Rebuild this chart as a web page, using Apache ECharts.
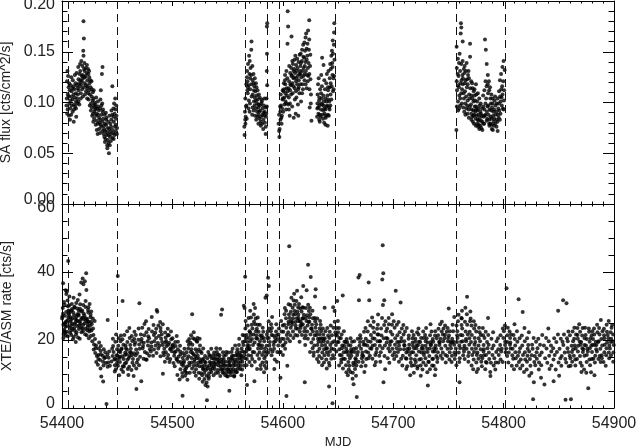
<!DOCTYPE html>
<html>
<head>
<meta charset="utf-8">
<script src="https://cdn.jsdelivr.net/npm/echarts@6/dist/echarts.min.js"></script>
<style>
  html, body { margin: 0; padding: 0; background: #fff; }
  #chart { width: 636px; height: 448px; }
</style>
</head>
<body>
<div id="chart"></div>
<script>
// x range / ticks
const mjdMin = 54400, mjdMax = 54900, mjdStep = 100;
// dashed markers (MJD)
const breakMjd = [54405.6, 54449.6, 54566, 54586, 54596.6, 54647.3, 54756.7, 54801.3];

// SA flux, rows: [day, flux, flux, ...]
const saSegA = [
  [54404, 0.121, 0.097, 0.131, 0.104, 0.089], [54405, 0.108, 0.126, 0.093, 0.115],
  [54406, 0.099, 0.087, 0.119, 0.106, 0.112], [54407, 0.094, 0.117, 0.083, 0.102],
  [54408, 0.111, 0.125, 0.097, 0.088, 0.106], [54409, 0.103, 0.091, 0.114, 0.122],
  [54410, 0.098, 0.108, 0.081, 0.116, 0.093], [54411, 0.113, 0.096, 0.105, 0.127],
  [54412, 0.101, 0.119, 0.086, 0.109, 0.094], [54413, 0.117, 0.104, 0.129, 0.099],
  [54414, 0.123, 0.108, 0.135, 0.114, 0.101], [54415, 0.112, 0.128, 0.119, 0.098],
  [54416, 0.131, 0.116, 0.104, 0.138, 0.122], [54417, 0.118, 0.141, 0.109, 0.126],
  [54418, 0.127, 0.113, 0.136, 0.121, 0.106], [54419, 0.180, 0.163, 0.151, 0.146, 0.124, 0.133, 0.115],
  [54420, 0.119, 0.131, 0.108, 0.139, 0.125], [54421, 0.134, 0.117, 0.126, 0.111],
  [54422, 0.122, 0.137, 0.114, 0.129, 0.104], [54423, 0.116, 0.128, 0.133, 0.109],
  [54424, 0.125, 0.103, 0.119, 0.131, 0.112], [54425, 0.108, 0.122, 0.097, 0.115],
  [54426, 0.113, 0.099, 0.121, 0.092, 0.106], [54427, 0.095, 0.110, 0.087, 0.102],
  [54428, 0.104, 0.089, 0.097, 0.081, 0.112], [54429, 0.091, 0.100, 0.084, 0.095],
  [54430, 0.087, 0.098, 0.078, 0.093, 0.105], [54431, 0.082, 0.094, 0.089, 0.073],
  [54432, 0.096, 0.079, 0.088, 0.069, 0.101], [54433, 0.085, 0.074, 0.092, 0.080],
  [54434, 0.078, 0.094, 0.083, 0.070, 0.103], [54435, 0.112, 0.088, 0.076, 0.097],
  [54436, 0.135, 0.128, 0.091, 0.081, 0.072, 0.099], [54437, 0.084, 0.069, 0.093, 0.077],
  [54438, 0.079, 0.066, 0.088, 0.074, 0.061], [54439, 0.072, 0.083, 0.064, 0.090],
  [54440, 0.068, 0.078, 0.058, 0.085, 0.071], [54441, 0.063, 0.075, 0.055, 0.081],
  [54442, 0.074, 0.060, 0.050, 0.068, 0.087], [54443, 0.066, 0.079, 0.058, 0.071],
  [54444, 0.083, 0.069, 0.092, 0.062, 0.076], [54445, 0.116, 0.073, 0.088, 0.065],
  [54446, 0.081, 0.094, 0.070, 0.086, 0.064], [54447, 0.099, 0.076, 0.089, 0.068],
  [54448, 0.072, 0.104, 0.084, 0.078, 0.093], [54449, 0.087, 0.069, 0.097, 0.075]
];
const saSegB = [
  [54565, 0.083, 0.068, 0.091, 0.076], [54566, 0.104, 0.118, 0.086, 0.096, 0.079],
  [54567, 0.125, 0.097, 0.112, 0.084, 0.131], [54568, 0.109, 0.138, 0.121, 0.094, 0.115],
  [54569, 0.128, 0.102, 0.146, 0.117, 0.091], [54570, 0.113, 0.134, 0.099, 0.124, 0.141],
  [54571, 0.160, 0.152, 0.106, 0.127, 0.118], [54572, 0.122, 0.095, 0.136, 0.108, 0.088],
  [54573, 0.101, 0.119, 0.092, 0.128, 0.112], [54574, 0.116, 0.087, 0.105, 0.124, 0.097],
  [54575, 0.094, 0.111, 0.083, 0.102, 0.119], [54576, 0.107, 0.091, 0.115, 0.086, 0.099],
  [54577, 0.088, 0.103, 0.095, 0.112, 0.079], [54578, 0.098, 0.084, 0.108, 0.091],
  [54579, 0.092, 0.105, 0.081, 0.097], [54580, 0.086, 0.099, 0.077, 0.103],
  [54581, 0.094, 0.079, 0.088, 0.101], [54582, 0.083, 0.097, 0.074, 0.090],
  [54583, 0.091, 0.104, 0.080, 0.087], [54584, 0.076, 0.095, 0.069, 0.086],
  [54585, 0.178, 0.175, 0.148, 0.131, 0.117, 0.104, 0.096, 0.089]
];
const saSegC = [
  [54596, 0.079, 0.066, 0.088, 0.072], [54597, 0.091, 0.074, 0.083, 0.096],
  [54598, 0.097, 0.085, 0.108, 0.079], [54599, 0.112, 0.094, 0.103, 0.087],
  [54600, 0.104, 0.119, 0.091, 0.111], [54601, 0.098, 0.113, 0.122, 0.105],
  [54602, 0.118, 0.101, 0.127, 0.093, 0.109], [54603, 0.107, 0.131, 0.114, 0.099],
  [54604, 0.190, 0.175, 0.158, 0.111, 0.124, 0.098], [54605, 0.121, 0.105, 0.136, 0.114, 0.093],
  [54606, 0.112, 0.129, 0.099, 0.118, 0.087], [54607, 0.165, 0.117, 0.134, 0.108, 0.126],
  [54608, 0.127, 0.109, 0.141, 0.119, 0.096], [54609, 0.116, 0.138, 0.085, 0.124, 0.131],
  [54610, 0.133, 0.114, 0.125, 0.103, 0.142], [54611, 0.121, 0.146, 0.089, 0.129, 0.111],
  [54612, 0.137, 0.118, 0.105, 0.131, 0.124], [54613, 0.126, 0.143, 0.113, 0.134, 0.098],
  [54614, 0.140, 0.122, 0.087, 0.128, 0.115], [54615, 0.118, 0.147, 0.131, 0.109, 0.136],
  [54616, 0.139, 0.125, 0.148, 0.101, 0.128], [54617, 0.131, 0.152, 0.118, 0.141, 0.109],
  [54618, 0.145, 0.126, 0.157, 0.134, 0.113], [54619, 0.136, 0.159, 0.122, 0.144, 0.128],
  [54620, 0.151, 0.131, 0.164, 0.118, 0.140], [54621, 0.142, 0.168, 0.127, 0.153, 0.114],
  [54622, 0.158, 0.134, 0.146, 0.171, 0.121], [54623, 0.181, 0.139, 0.152, 0.126, 0.162],
  [54624, 0.128, 0.147, 0.095, 0.136, 0.113], [54625, 0.108, 0.123, 0.082, 0.099],
  [54631, 0.094, 0.108, 0.086, 0.118, 0.099], [54632, 0.102, 0.089, 0.124, 0.095, 0.083],
  [54633, 0.088, 0.113, 0.097, 0.081, 0.105], [54634, 0.109, 0.093, 0.127, 0.086, 0.099],
  [54635, 0.144, 0.098, 0.116, 0.088, 0.104], [54636, 0.137, 0.092, 0.107, 0.084, 0.097],
  [54637, 0.101, 0.089, 0.122, 0.094, 0.080], [54638, 0.093, 0.113, 0.085, 0.104, 0.078],
  [54639, 0.119, 0.096, 0.087, 0.128, 0.101], [54640, 0.088, 0.107, 0.077, 0.097, 0.115],
  [54641, 0.112, 0.095, 0.131, 0.087, 0.103], [54642, 0.124, 0.101, 0.138, 0.093, 0.115],
  [54643, 0.108, 0.133, 0.097, 0.146, 0.119], [54644, 0.139, 0.116, 0.151, 0.103, 0.127],
  [54645, 0.148, 0.124, 0.161, 0.111, 0.135], [54646, 0.178, 0.169, 0.142, 0.157, 0.126, 0.113]
];
const saSegD = [
  [54757, 0.134, 0.096, 0.155, 0.112, 0.073, 0.121], [54758, 0.117, 0.143, 0.101, 0.128, 0.092],
  [54759, 0.126, 0.107, 0.139, 0.094, 0.115], [54760, 0.104, 0.148, 0.119, 0.131, 0.097],
  [54761, 0.178, 0.174, 0.168, 0.122, 0.109, 0.138], [54762, 0.160, 0.113, 0.127, 0.099, 0.141],
  [54763, 0.118, 0.133, 0.095, 0.109, 0.124], [54764, 0.129, 0.104, 0.119, 0.091, 0.136],
  [54765, 0.099, 0.122, 0.111, 0.131, 0.088], [54766, 0.115, 0.094, 0.139, 0.106, 0.123],
  [54767, 0.102, 0.127, 0.089, 0.118, 0.097], [54768, 0.124, 0.093, 0.108, 0.131, 0.085],
  [54769, 0.158, 0.145, 0.096, 0.114, 0.104], [54770, 0.107, 0.089, 0.121, 0.098, 0.083],
  [54771, 0.093, 0.114, 0.086, 0.104, 0.119], [54772, 0.101, 0.081, 0.111, 0.092, 0.087],
  [54773, 0.088, 0.107, 0.079, 0.096, 0.113], [54774, 0.118, 0.091, 0.084, 0.102, 0.077],
  [54775, 0.096, 0.079, 0.108, 0.087, 0.093], [54776, 0.083, 0.101, 0.076, 0.092, 0.109],
  [54777, 0.094, 0.078, 0.088, 0.104, 0.082], [54778, 0.077, 0.097, 0.085, 0.074, 0.091],
  [54779, 0.089, 0.075, 0.099, 0.082], [54780, 0.081, 0.094, 0.073, 0.087],
  [54781, 0.096, 0.079, 0.107, 0.086], [54782, 0.087, 0.112, 0.093, 0.079],
  [54783, 0.162, 0.152, 0.099, 0.121, 0.088], [54784, 0.138, 0.104, 0.091, 0.116, 0.082],
  [54785, 0.096, 0.127, 0.084, 0.109, 0.118], [54786, 0.112, 0.088, 0.121, 0.097, 0.079],
  [54787, 0.083, 0.104, 0.093, 0.115, 0.077], [54788, 0.099, 0.079, 0.108, 0.086, 0.092],
  [54789, 0.078, 0.095, 0.084, 0.104, 0.074], [54790, 0.091, 0.073, 0.087, 0.099, 0.081],
  [54791, 0.084, 0.102, 0.077, 0.093], [54792, 0.097, 0.079, 0.088, 0.106],
  [54793, 0.076, 0.091, 0.083, 0.099], [54794, 0.088, 0.072, 0.104, 0.081],
  [54795, 0.094, 0.111, 0.085, 0.099], [54796, 0.122, 0.092, 0.106, 0.083],
  [54797, 0.101, 0.128, 0.089, 0.113], [54798, 0.135, 0.097, 0.116, 0.105],
  [54799, 0.108, 0.141, 0.094, 0.121], [54800, 0.112, 0.093, 0.132, 0.102]
];

// XTE/ASM rate, rows: [day, rate, rate, ...], each row spans 2 days
const asmRows1 = [
  [54400, 36.7, 26.3, 23.1, 29.4, 21.8, 26.9, 31.2, 24.5, 20.6, 27.7],
  [54402, 30.4, 25.2, 22.6, 33.5, 27.1, 21.3, 24.8, 28.2, 23.9, 34.6, 22.2],
  [54404, 43.2, 34.3, 31.6, 25.5, 28.7, 22.4, 29.9, 24.1, 26.6, 21.1, 25.8],
  [54406, 28.3, 26.7, 30.2, 23.6, 27.9, 24.2, 32.8, 22.1, 27.4, 25.3],
  [54408, 26.4, 30.6, 23.3, 21.5, 29.1, 25.9, 20.2, 28.6, 24.7, 22.8],
  [54410, 29.5, 24.6, 27.3, 22.7, 32.4, 23.5, 28.1, 26.2, 20.9, 29.8],
  [54412, 27.6, 22.3, 25.7, 30.9, 24.1, 19.4, 26.8, 25.1, 29.3, 21.6],
  [54414, 31.8, 25.4, 28.6, 23.2, 27.5, 24.3, 20.7, 27.2, 25.6, 33.4],
  [54416, 36.9, 29.2, 26.5, 23.7, 28.4, 24.8, 22.3, 30.5, 25.9, 20.4],
  [54418, 38.1, 36.4, 28.7, 26.1, 24.4, 30.3, 22.6, 27.8, 23.4, 26.6],
  [54420, 39.6, 37.3, 31.5, 27.2, 25.6, 23.3, 29.7, 21.7, 26.4, 24.9],
  [54422, 34.7, 29.6, 26.2, 24.5, 21.4, 28.1, 23.8, 25.5, 22.9, 28.8],
  [54424, 30.6, 25.3, 27.4, 22.5, 24.2, 20.5, 26.7, 23.1],
  [54426, 28.4, 24.7, 21.2, 26.3, 22.8, 19.6, 25.4],
  [54428, 25.6, 21.5, 18.7, 23.4, 20.3, 17.2],
  [54430, 18.4, 15.3, 17.6, 13.5, 16.2], [54432, 17.5, 14.4, 19.3, 12.7, 15.6],
  [54434, 18.2, 15.7, 11.6, 9.3, 14.1, 16.8], [54436, 17.3, 13.6, 7.8, 15.4, 12.5],
  [54438, 14.6, 13.2, 16.4, 14.9], [54440, 25.9, 1.2, 13.4, 15.7, 12.1],
  [54442, 16.6, 12.4, 14.8], [54444, 15.3, 13.7, 17.4],
  [54446, 20.4, 12.6, 16.5, 14.3, 18.2, 10.7], [54448, 21.6, 14.5, 17.3, 11.4, 15.5, 19.5, 13.2],
  [54450, 38.8, 18.3, 14.2, 16.7, 12.4, 20.5, 15.4, 9.6], [54452, 17.2, 13.5, 19.6, 15.1, 11.3, 16.4, 21.3, 14.7],
  [54454, 31.5, 18.6, 15.2, 12.3, 17.5, 14.4, 20.2, 10.6], [54456, 16.3, 13.1, 18.4, 21.5, 15.6, 12.2, 17.6],
  [54458, 19.4, 14.2, 17.1, 11.5, 15.8, 22.6, 13.3], [54460, 18.5, 15.3, 20.6, 12.1, 16.4, 14.7, 23.5, 9.7],
  [54462, 17.4, 13.3, 21.2, 15.5, 11.2, 19.7, 16.3], [54464, 20.3, 14.4, 18.6, 12.5, 16.1, 9.4, 22.4],
  [54466, 15.5, 5.6, 19.3, 13.4, 17.2, 11.6, 21.5], [54468, 18.7, 14.3, 23.4, 16.2, 12.6, 20.1],
  [54470, 30.8, 19.5, 15.1, 21.6, 17.4, 7.9], [54472, 17.6, 20.3, 14.5, 23.6, 18.2],
  [54474, 21.4, 16.5, 19.2, 14.3, 24.7], [54476, 19.6, 22.3, 16.1, 25.5, 18.4, 14.2],
  [54478, 20.5, 17.3, 23.2, 15.4, 21.1], [54480, 26.8, 19.3, 22.5, 16.6, 18.1],
  [54482, 21.5, 17.2, 24.4, 19.6, 15.4], [54484, 28.8, 20.6, 23.3, 18.4, 16.2, 22.1],
  [54486, 28.3, 21.2, 17.5, 24.3, 19.1], [54488, 22.6, 18.3, 20.4, 15.2, 23.5, 25.3],
  [54490, 19.4, 10.1, 21.6, 16.3, 18.5, 24.6], [54492, 20.7, 17.4, 22.2, 15.5, 19.3, 13.6],
  [54494, 16.4, 21.5, 18.2, 14.6, 19.7, 23.3], [54496, 19.2, 15.6, 17.3, 21.4, 13.5, 18.6],
  [54498, 17.5, 20.2, 14.4, 18.3, 22.5, 16.7]
];
const asmRows2 = [
  [54500, 15.4, 18.6, 13.2, 20.5, 16.3, 17.7], [54502, 18.2, 14.5, 19.4, 16.6, 12.3, 21.2],
  [54504, 13.6, 17.3, 15.1, 9.7, 19.5, 14.2], [54506, 15.7, 11.4, 18.3, 13.5, 8.4, 16.6],
  [54508, 12.4, 3.6, 14.7, 10.3, 16.2, 12.9, 9.2], [54510, 13.3, 10.6, 15.5, 11.2, 17.4, 9.5, 13.8],
  [54512, 14.5, 11.7, 19.6, 12.2, 10.3, 16.4, 8.3], [54514, 15.2, 12.6, 17.5, 10.4, 20.3, 13.3, 18.6],
  [54516, 27.6, 16.5, 13.4, 19.2, 11.6, 17.3, 14.7, 21.4], [54518, 18.6, 14.3, 20.5, 12.4, 16.2, 10.5, 15.7, 22.3],
  [54520, 17.3, 13.5, 19.7, 15.3, 11.4, 20.2, 14.6, 9.5], [54522, 19.5, 15.4, 12.6, 17.2, 20.6, 13.3, 16.5, 10.4],
  [54524, 16.6, 12.3, 18.4, 14.5, 10.2, 20.4, 13.7, 8.6], [54526, 14.3, 11.5, 16.2, 9.6, 13.4, 17.5, 12.2, 7.7],
  [54528, 13.6, 10.4, 15.3, 11.5, 8.5, 14.4, 6.8, 12.5], [54530, 12.3, 2.3, 9.5, 14.6, 11.2, 7.5, 13.4, 6.3],
  [54532, 13.5, 10.2, 15.6, 8.6, 12.4, 16.5, 9.3, 11.6], [54534, 15.3, 12.5, 17.4, 10.6, 13.2, 14.6, 11.3],
  [54536, 14.5, 11.6, 16.3, 13.4, 9.6, 15.5, 12.2], [54538, 13.2, 15.4, 11.5, 17.6, 12.7, 10.3, 14.4],
  [54540, 12.5, 14.3, 10.4, 16.5, 13.6, 11.2, 15.7], [54542, 13.4, 11.3, 15.5, 9.4, 14.6, 12.3, 17.4],
  [54544, 29.0, 27.4, 12.6, 14.3, 10.5, 13.5, 16.4, 11.4], [54546, 14.4, 11.5, 13.3, 9.6, 15.4, 12.5, 10.3],
  [54548, 12.4, 15.6, 10.5, 13.6, 11.3, 16.5, 9.4], [54550, 13.5, 5.1, 11.4, 14.5, 9.3, 12.6, 16.3, 10.5],
  [54552, 14.6, 11.3, 16.5, 12.4, 9.6, 13.5, 15.3, 10.6], [54554, 12.5, 15.4, 10.6, 13.3, 17.4, 11.5, 14.2, 9.3],
  [54556, 15.5, 11.2, 13.6, 18.4, 10.5, 14.3, 12.6, 9.5], [54558, 16.4, 12.5, 14.4, 11.6, 17.3, 13.4, 10.6, 15.5],
  [54560, 15.6, 18.5, 12.4, 14.6, 11.5, 16.3, 13.5, 20.4], [54562, 17.5, 13.6, 15.3, 19.4, 11.3, 16.6, 14.5, 21.5, 9.6],
  [54564, 38.6, 30.1, 29.4, 18.5, 14.6, 21.3, 16.4, 12.5, 19.6, 15.3],
  [54566, 23.4, 17.6, 20.5, 14.4, 25.6, 18.3, 12.6, 21.5, 16.6, 6.8],
  [54568, 26.5, 19.4, 22.6, 15.5, 18.4, 24.3, 13.5, 20.6, 17.3],
  [54570, 28.6, 21.5, 17.4, 24.5, 19.6, 15.4, 22.3, 12.5, 26.6],
  [54572, 30.6, 23.4, 18.5, 20.3, 25.4, 16.5, 21.6, 14.4, 27.5],
  [54574, 29.4, 22.6, 19.3, 24.6, 16.4, 20.5, 13.6, 26.3, 7.9],
  [54576, 26.6, 20.4, 17.5, 23.3, 15.6, 21.4, 18.6, 11.5, 24.5],
  [54578, 24.5, 19.6, 16.4, 21.3, 14.5, 18.5, 22.4, 12.6],
  [54580, 23.6, 18.4, 15.6, 20.5, 13.4, 17.6, 21.3, 11.5],
  [54582, 22.4, 17.5, 19.6, 14.6, 16.5, 12.4, 20.6, 10.5],
  [54584, 33.1, 32.4, 20.6, 16.5, 18.3, 13.5, 21.6, 15.4, 11.6],
  [54586, 38.3, 35.9, 22.5, 18.4, 25.5, 20.6, 16.3, 23.4],
  [54588, 21.5, 17.3, 24.6, 19.4, 15.5, 22.6], [54590, 23.5, 19.4, 16.6, 21.3, 26.8, 18.5],
  [54592, 20.6, 17.4, 22.5, 14.3, 19.6, 11.5], [54594, 21.4, 16.5, 24.6, 18.4, 13.6, 20.3],
  [54596, 19.5, 23.4, 16.3, 21.6, 8.9], [54598, 22.5, 18.3, 25.6, 20.4, 16.5, 24.3]
];
const asmRows3 = [
  [54600, 24.5, 20.3, 27.6, 22.4, 18.5, 15.6, 29.4], [54602, 23.6, 3.5, 26.4, 21.5, 19.3, 28.6, 17.4],
  [54604, 47.6, 25.4, 30.5, 22.3, 27.5, 20.4, 24.6, 12.4], [54606, 26.5, 32.4, 23.6, 28.3, 21.4, 25.5, 19.6, 30.3],
  [54608, 27.4, 24.5, 31.6, 22.5, 26.3, 29.5, 20.6, 25.2], [54610, 28.5, 25.3, 33.6, 23.4, 27.6, 21.5, 30.4, 24.3],
  [54612, 29.6, 26.4, 23.3, 31.5, 25.6, 28.4, 21.3, 34.5], [54614, 27.5, 24.3, 30.6, 22.4, 26.5, 29.3, 19.5, 25.6],
  [54616, 28.4, 23.5, 26.3, 32.6, 21.5, 25.3, 29.6, 24.4], [54618, 35.9, 27.4, 24.6, 7.6, 29.5, 22.6, 26.4, 20.5],
  [54620, 34.6, 26.5, 29.4, 23.5, 27.3, 21.4, 25.6, 18.5], [54622, 42.1, 28.5, 24.3, 30.4, 22.5, 26.6, 20.4, 25.3],
  [54624, 38.5, 27.6, 23.4, 29.5, 21.6, 25.4, 19.3, 16.5], [54626, 26.4, 22.5, 28.6, 20.3, 24.5, 17.6, 23.3, 15.4],
  [54628, 34.9, 32.8, 25.5, 21.4, 23.6, 18.4, 26.5, 16.3], [54630, 24.6, 20.4, 26.3, 18.5, 22.4, 16.6, 21.5, 14.4],
  [54632, 23.4, 19.5, 25.6, 17.4, 21.6, 15.3, 20.4, 13.5], [54634, 22.6, 18.4, 24.5, 16.3, 20.5, 14.6, 19.4, 12.6],
  [54636, 29.5, 21.6, 17.3, 23.4, 15.5, 19.6, 13.4, 20.3], [54638, 20.5, 16.4, 22.6, 14.3, 18.5, 11.6, 17.5],
  [54640, 21.3, 17.6, 6.3, 19.4, 15.6, 23.5, 13.3], [54642, 22.4, 18.5, 20.6, 14.5, 16.6, 24.3, 12.5],
  [54644, 29.6, 21.4, 1.4, 17.5, 23.6, 19.3, 15.5], [54646, 28.5, 22.3, 19.6, 25.4, 17.3, 21.5, 14.6],
  [54648, 31.5, 23.5, 19.4, 16.6, 21.3, 18.5, 25.6], [54650, 20.6, 17.3, 23.5, 15.6, 19.4, 12.5, 22.3],
  [54652, 18.4, 15.5, 21.6, 13.4, 17.6, 20.5, 14.3], [54654, 33.1, 19.5, 16.4, 22.6, 14.5, 18.3, 11.6],
  [54656, 17.5, 14.4, 20.3, 12.6, 16.5, 19.4, 10.5], [54658, 16.6, 13.5, 19.4, 11.3, 15.6, 18.5, 9.6],
  [54660, 17.3, 14.6, 20.5, 12.4, 16.3, 10.6, 18.4], [54662, 15.4, 12.6, 19.5, 10.4, 16.6, 13.3, 8.6],
  [54664, 16.5, 7.0, 13.4, 19.6, 11.5, 17.4, 14.6], [54666, 17.6, 3.2, 14.3, 20.4, 12.5, 15.6, 9.5],
  [54668, 39.1, 38.4, 31.7, 16.5, 19.4, 13.6, 18.3], [54670, 17.4, 14.6, 20.5, 12.3, 21.4, 15.5],
  [54672, 18.6, 15.3, 22.4, 13.5, 19.5, 16.3, 10.6], [54674, 20.4, 16.6, 23.5, 14.4, 18.6, 12.4],
  [54676, 36.9, 19.6, 16.3, 22.5, 14.6, 18.4, 25.5], [54678, 31.7, 21.5, 17.6, 24.3, 15.4, 19.5],
  [54680, 20.5, 17.4, 23.6, 14.5, 18.3, 26.6], [54682, 22.3, 18.5, 25.4, 15.6, 20.4, 12.6],
  [54684, 19.6, 16.4, 23.3, 13.5, 21.6, 17.4], [54686, 24.5, 18.3, 21.6, 15.4, 27.5, 19.6],
  [54688, 23.4, 19.6, 26.5, 16.4, 21.3, 13.6], [54690, 47.9, 39.6, 37.8, 31.7, 30.3, 20.5, 17.6, 24.4, 7.6],
  [54692, 22.6, 18.4, 25.5, 15.3, 20.6, 11.4], [54694, 20.4, 17.5, 23.4, 14.6, 19.3, 26.5],
  [54696, 19.5, 16.6, 22.4, 13.3, 18.5, 24.6], [54698, 21.6, 17.4, 24.5, 15.5, 19.6, 27.6]
];
const asmRows4 = [
  [54700, 20.5, 16.3, 23.6, 14.4, 18.6, 25.5], [54702, 34.5, 21.4, 17.6, 24.5, 15.3, 19.4],
  [54704, 19.4, 16.5, 22.3, 13.6, 18.4, 25.3], [54706, 31.0, 20.6, 17.3, 23.4, 14.5, 19.6],
  [54708, 18.5, 15.4, 21.6, 12.5, 17.3, 24.4], [54710, 19.6, 16.3, 22.5, 14.6, 18.4, 11.5],
  [54712, 17.4, 14.5, 20.4, 12.3, 16.6, 23.5], [54714, 18.6, 15.6, 21.3, 13.4, 17.5, 9.6],
  [54716, 19.3, 16.4, 22.6, 14.5, 18.3, 12.4, 20.5], [54718, 17.6, 14.3, 21.5, 12.6, 16.4, 19.5, 10.4],
  [54720, 18.4, 15.5, 22.3, 13.5, 17.6, 20.4, 11.6], [54722, 19.5, 16.6, 23.4, 14.3, 18.5, 21.6, 12.3],
  [54724, 17.5, 14.4, 20.6, 12.5, 16.3, 19.4, 9.5], [54726, 18.3, 15.6, 22.5, 13.4, 17.4, 20.6, 11.3],
  [54728, 19.6, 16.4, 23.5, 14.6, 18.3, 21.5, 12.6], [54730, 17.4, 6.6, 20.5, 13.6, 16.5, 19.3, 10.5],
  [54732, 18.5, 15.3, 21.4, 13.5, 24.6, 17.5, 11.4], [54734, 19.4, 16.6, 22.5, 14.4, 18.6, 20.3, 12.5],
  [54736, 17.6, 14.5, 21.3, 12.4, 16.6, 19.5, 9.6], [54738, 18.4, 15.3, 22.6, 13.5, 17.4, 20.5, 11.4],
  [54740, 19.5, 16.4, 23.3, 14.6, 18.5, 21.4], [54742, 20.4, 17.5, 24.6, 15.4, 19.3, 22.5],
  [54744, 19.6, 16.3, 23.4, 14.5, 21.6, 25.4], [54746, 18.3, 15.6, 21.5, 13.4, 20.5, 24.3],
  [54748, 20.6, 17.4, 23.5, 15.3, 19.6, 22.4], [54750, 29.3, 19.5, 16.4, 22.6, 14.3, 18.5, 21.3],
  [54752, 20.4, 17.6, 24.5, 15.4, 19.3, 13.5], [54754, 19.5, 16.3, 22.6, 14.4, 18.6, 26.8],
  [54756, 21.4, 17.5, 24.3, 15.6, 19.4, 12.6], [54758, 22.6, 18.4, 25.5, 16.3, 20.6, 13.5, 27.4],
  [54760, 21.5, 7.6, 24.4, 17.6, 19.5, 14.6, 26.5], [54762, 23.4, 19.6, 26.3, 17.5, 21.4, 15.5, 28.6],
  [54764, 22.5, 18.3, 25.4, 16.6, 20.3, 14.4, 29.5], [54766, 32.7, 21.6, 17.4, 24.5, 19.6, 15.3, 27.6],
  [54768, 22.4, 18.6, 25.5, 16.3, 20.5, 13.6, 28.4], [54770, 21.5, 17.4, 24.3, 15.6, 19.4, 12.5, 26.3],
  [54772, 20.6, 16.5, 23.4, 14.3, 18.6, 11.4, 25.5], [54774, 19.4, 15.6, 22.5, 13.4, 17.5, 10.6, 24.4],
  [54776, 20.5, 16.3, 23.6, 14.5, 18.4, 11.5], [54778, 19.6, 15.4, 22.3, 13.6, 17.3, 21.5],
  [54780, 18.5, 14.6, 21.4, 12.3, 16.6, 23.5], [54782, 17.3, 13.5, 20.6, 11.4, 15.5, 22.4],
  [54784, 19.4, 15.6, 26.5, 13.3, 17.6], [54786, 18.6, 14.4, 21.5, 10.6, 16.3],
  [54788, 17.5, 13.3, 20.4, 9.4, 15.6], [54790, 18.4, 14.6, 22.3, 12.5],
  [54792, 16.5, 13.4, 19.6, 11.3], [54794, 17.3, 13.4, 20.5, 15.6],
  [54796, 16.6, 21.4, 14.3, 18.5], [54798, 17.4, 20.6, 13.5, 23.4]
];
const asmRows5 = [
  [54800, 19.5, 22.6, 16.4, 24.3, 18.5], [54802, 35.2, 21.4, 17.5, 23.6, 15.3, 19.4],
  [54804, 20.6, 16.3, 22.5, 13.4, 18.6], [54806, 19.3, 15.5, 21.6, 12.4, 17.5],
  [54808, 21.5, 17.4, 24.6, 14.5, 11.4], [54810, 18.4, 14.6, 20.3, 12.5, 16.4],
  [54812, 32.0, 19.5, 15.4, 22.6, 13.5], [54814, 17.6, 14.3, 20.5, 11.6, 16.5],
  [54816, 28.2, 18.4, 15.6, 21.3, 12.5], [54818, 19.6, 16.4, 23.5, 14.3, 10.6],
  [54820, 17.4, 13.6, 20.5, 11.3, 15.4], [54822, 18.5, 14.4, 16.6, 9.5, 22.3],
  [54824, 15.5, 12.4, 18.6, 10.3], [54826, 2.6, 7.6, 17.4, 13.5, 20.6],
  [54828, 16.4, 12.6, 19.5, 15.3], [54830, 14.5, 11.3, 17.6, 20.4],
  [54832, 18.6, 13.4, 8.9, 15.5], [54834, 16.3, 21.5, 12.6],
  [54836, 14.6, 18.4, 6.9], [54838, 17.5, 13.3, 20.6],
  [54840, 15.4, 19.6, 11.5, 23.4], [54842, 16.6, 12.5, 18.4],
  [54844, 20.5, 14.3, 7.9, 17.6], [54846, 15.6, 19.4, 11.3],
  [54848, 28.6, 16.5, 13.4, 21.6], [54850, 17.4, 14.6, 9.5, 20.4],
  [54852, 31.7, 15.3, 19.5, 12.4], [54854, 18.5, 14.4, 21.6, 16.3],
  [54856, 30.8, 2.4, 17.6, 13.4, 20.5], [54858, 16.5, 12.3, 19.6, 15.4, 22.5],
  [54860, 18.3, 14.6, 2.6, 21.4, 16.5, 12.4], [54862, 19.6, 15.4, 22.5, 17.3, 13.6, 20.4],
  [54864, 17.5, 14.3, 21.6, 18.4, 12.5, 23.6], [54866, 20.4, 16.6, 23.5, 18.3, 14.4, 21.5],
  [54868, 18.6, 15.3, 22.4, 19.5, 13.3, 24.6], [54870, 19.4, 16.5, 21.3, 17.6, 12.4, 23.5, 10.6],
  [54872, 20.5, 17.3, 23.6, 15.4, 18.5, 11.3], [54874, 18.4, 15.6, 21.5, 17.4, 13.5, 20.3, 10.4],
  [54876, 19.5, 5.8, 22.4, 16.6, 14.3, 23.4], [54878, 17.6, 14.4, 20.5, 18.3, 12.6, 21.4, 10.5],
  [54880, 20.3, 16.5, 23.4, 18.6, 14.5, 22.6], [54882, 18.5, 15.4, 21.6, 17.3, 13.4, 19.5, 9.6],
  [54884, 19.4, 16.6, 22.3, 18.5, 14.4, 24.5], [54886, 21.6, 17.4, 23.5, 15.3, 19.6, 13.5],
  [54888, 18.4, 15.5, 22.6, 20.3, 14.6, 25.9], [54890, 20.5, 16.4, 23.3, 18.6, 13.5, 21.4],
  [54892, 19.3, 17.6, 24.5, 15.5, 22.4, 12.4], [54894, 21.5, 18.4, 25.6, 16.3, 20.5, 14.6],
  [54896, 20.4, 17.5, 23.6, 19.4, 15.5, 22.3], [54898, 19.6, 16.3, 24.4, 18.5, 21.6, 13.6]
];

// where, inside a row's time span, the k-th reading is placed
const slots = [0.5, 0.15, 0.8, 0.35, 0.65, 0.05, 0.9, 0.25, 0.7, 0.45, 0.95, 0.6];

function expand(rows, span) {
  const pts = [];
  rows.forEach((r, k) => {
    for (let i = 1; i < r.length; i++) {
      pts.push([r[0] + span * slots[((i - 1) * 5 + k * 7) % slots.length], r[i]]);
    }
  });
  return pts;
}

const saPoints = expand([].concat(saSegA, saSegB, saSegC, saSegD), 1);
const asmPoints = expand([].concat(asmRows1, asmRows2, asmRows3, asmRows4, asmRows5), 2);

const font = '"Liberation Sans", Arial, sans-serif';
const ink = '#000';
const textInk = '#222';

function xAx(grid, pos, labels, name) {
  return {
    type: 'value', gridIndex: grid, position: pos,
    min: mjdMin, max: mjdMax, interval: mjdStep,
    axisLine: { show: true, onZero: false, lineStyle: { color: ink, width: 1 } },
    axisTick: { show: true, inside: true, length: 5, lineStyle: { color: ink } },
    minorTick: { show: true, splitNumber: 10, length: 2.5, lineStyle: { color: ink } },
    splitLine: { show: false },
    axisLabel: { show: labels, color: textInk, fontFamily: font, fontSize: 16, margin: 8, formatter: v => String(v) },
    name: name || '', nameLocation: 'middle', nameGap: 28,
    nameTextStyle: { color: textInk, fontFamily: font, fontSize: 13 }
  };
}
function yAx(grid, pos, min, max, step, minor, labels, fmt, name) {
  return {
    type: 'value', gridIndex: grid, position: pos,
    min: min, max: max, interval: step,
    axisLine: { show: true, onZero: false, lineStyle: { color: ink, width: 1 } },
    axisTick: { show: true, inside: true, length: 11, lineStyle: { color: ink } },
    minorTick: { show: true, splitNumber: minor, length: 5.5, lineStyle: { color: ink } },
    splitLine: { show: false },
    axisLabel: {
      show: labels, color: textInk, fontFamily: font, fontSize: 16, margin: 7, formatter: fmt,
      lineHeight: 8, verticalAlignMinLabel: 'bottom', verticalAlignMaxLabel: 'top'
    },
    name: name || '', nameLocation: 'middle', nameGap: 48,
    nameTextStyle: { color: textInk, fontFamily: font, fontSize: 14 }
  };
}

const dashes = {
  symbol: 'none', silent: true, animation: false,
  label: { show: false },
  lineStyle: { color: '#111', type: [8, 5], width: 1 },
  data: breakMjd.map(v => ({ xAxis: v }))
};

const chart = echarts.init(document.getElementById('chart'), null, { renderer: 'canvas' });
chart.setOption({
  animation: false,
  backgroundColor: '#fff',
  grid: [
    { left: 62, right: 22, top: 1, height: 203, outerBoundsMode: 'none', containLabel: false },
    { left: 62, right: 22, top: 204, height: 204, outerBoundsMode: 'none', containLabel: false }
  ],
  xAxis: [
    xAx(0, 'bottom', false), xAx(0, 'top', false),
    xAx(1, 'bottom', true, 'MJD'), xAx(1, 'top', false)
  ],
  yAxis: [
    yAx(0, 'left', 0, 0.2, 0.05, 5, true, v => v.toFixed(2), 'SA flux [cts/cm^2/s]'),
    yAx(0, 'right', 0, 0.2, 0.05, 5, false),
    yAx(1, 'left', 0, 60, 20, 4, true, v => String(v), 'XTE/ASM rate [cts/s]'),
    yAx(1, 'right', 0, 60, 20, 4, false)
  ],
  series: [
    {
      type: 'scatter', xAxisIndex: 0, yAxisIndex: 0, data: saPoints,
      symbolSize: 4, itemStyle: { color: ink }, markLine: dashes
    },
    {
      type: 'scatter', xAxisIndex: 2, yAxisIndex: 2, data: asmPoints,
      symbolSize: 4, itemStyle: { color: ink }, markLine: dashes
    }
  ]
});
</script>
</body>
</html>
